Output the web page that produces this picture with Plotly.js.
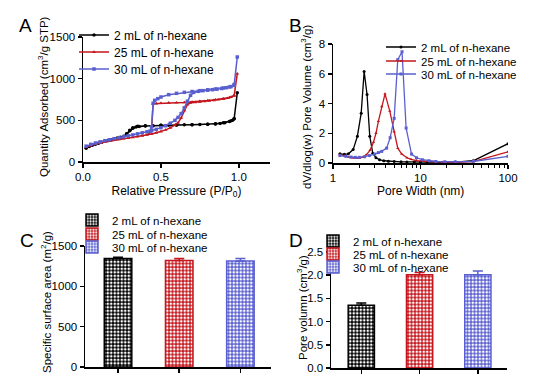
<!DOCTYPE html>
<html>
<head>
<meta charset="utf-8">
<script src="https://cdn.plot.ly/plotly-3.0.1.min.js"></script>
<style>html,body{margin:0;padding:0;background:#fff;}#chart{width:538px;height:386px;}</style>
</head>
<body>
<div id="chart"></div>
<script>
// ---------- DATA ----------
const seriesNames = ['2 mL of n-hexane', '25 mL of n-hexane', '30 mL of n-hexane'];

// Panel A: N2 isotherms (adsorption then desorption branch)
const isoP_2 = [0.02,0.04,0.06,0.08,0.10,0.12,0.14,0.16,0.18,0.20,0.22,0.24,0.26,0.28,0.30,0.32,0.34,0.36,0.40,0.45,0.50,0.55,0.60,0.65,0.70,0.75,0.80,0.85,0.88,0.91,0.94,0.96,0.97,0.99,
                0.97,0.95,0.90,0.85,0.80,0.70,0.60,0.50,0.40,0.35,0.32,0.30,0.28];
const isoQ_2 = [165,185,200,212,225,237,248,258,268,278,288,298,310,335,375,405,420,427,432,436,440,442,444,446,448,450,452,456,462,470,485,500,520,830,
                520,495,470,458,452,448,444,440,435,428,410,380,340];
const isoP_25 = [0.02,0.05,0.08,0.11,0.14,0.17,0.20,0.23,0.26,0.29,0.32,0.35,0.38,0.41,0.44,0.47,0.50,0.53,0.56,0.59,0.61,0.63,0.65,0.67,0.69,0.72,0.75,0.78,0.81,0.84,0.87,0.90,0.93,0.95,0.97,0.99,
                 0.97,0.94,0.90,0.85,0.80,0.75,0.70,0.65,0.60,0.55,0.50,0.47,0.45,0.44,0.42];
const isoQ_25 = [180,200,215,228,240,252,262,272,280,288,296,305,315,325,337,350,365,385,410,440,470,530,620,690,710,716,722,728,734,740,748,756,766,780,800,1060,
                 795,775,760,748,738,728,720,715,712,710,706,702,698,380,335];
const isoP_30 = [0.02,0.05,0.08,0.11,0.14,0.17,0.20,0.23,0.26,0.29,0.32,0.35,0.38,0.41,0.44,0.47,0.50,0.53,0.56,0.59,0.61,0.63,0.65,0.67,0.69,0.71,0.74,0.77,0.80,0.83,0.86,0.89,0.92,0.95,0.97,0.99,
                 0.97,0.94,0.90,0.85,0.80,0.75,0.70,0.65,0.60,0.55,0.50,0.48,0.46,0.45,0.44,0.43];
const isoQ_30 = [190,212,228,242,255,267,280,292,303,314,325,338,350,362,375,392,412,435,465,500,535,580,650,730,800,835,848,856,862,868,874,882,892,905,930,1260,
                 920,900,888,876,866,856,846,836,824,808,780,760,740,705,420,370];

// Panel B: pore size distribution
const psdW_2 = [1.2,1.35,1.5,1.7,1.9,2.1,2.27,2.45,2.63,2.85,3.1,3.4,3.8,4.3,5,6,7,8.5,10,12,15,19,25,40,100];
const psdV_2 = [0.62,0.58,0.62,0.9,1.8,3.35,6.15,4.6,1.8,0.65,0.35,0.22,0.15,0.12,0.1,0.08,0.07,0.06,0.06,0.05,0.05,0.05,0.06,0.15,1.3];
const psdW_25 = [1.2,1.35,1.5,1.65,1.8,2.0,2.2,2.4,2.65,2.9,3.1,3.3,3.6,3.93,4.45,5.0,5.5,6.1,7.0,7.8,9,11,14,18,25,40,100];
const psdV_25 = [0.55,0.48,0.4,0.35,0.32,0.33,0.4,0.55,0.85,1.4,2.0,2.8,3.8,4.65,3.5,2.1,1.0,0.6,0.35,0.25,0.16,0.12,0.08,0.06,0.05,0.1,0.75];
const psdW_30 = [1.2,1.4,1.6,1.8,2.0,2.3,2.6,3.0,3.3,3.6,4.1,4.5,5.0,5.5,6.15,6.85,7.9,9,10.5,12.5,15,19,25,40,100];
const psdV_30 = [0.5,0.45,0.4,0.38,0.38,0.42,0.5,0.6,0.7,0.78,1.0,1.7,3.0,6.95,7.48,2.35,0.6,0.35,0.22,0.15,0.1,0.08,0.07,0.1,0.45];

// Panel C: specific surface area (m2/g)
const ssaMean = [1345, 1320, 1315];
const ssaErr  = [15, 25, 30];
// Panel D: pore volume (cm3/g)
const pvMean = [1.35, 2.01, 2.01];
const pvErr  = [0.05, 0.05, 0.08];

// Axis titles
const titleA_x = 'Relative Pressure (P/P<sub>0</sub>)';
const titleA_y = 'Quantity Adsorbed (cm<sup>3</sup>/g STP)';
const titleB_x = 'Pore Width (nm)';
const titleB_y = 'dV/dlog(w) Pore Volume (cm<sup>3</sup>/g)';
const titleC_y = 'Specific surface area (m<sup>2</sup>/g)';
const titleD_y = 'Pore volumn (cm<sup>3</sup>/g)';

// ---------- STYLE ----------
const colors = ['#000000', '#c4161c', '#5a5fcf'];
const symbols = ['circle', 'triangle-up', 'square'];
const FONT = 'Arial, "Liberation Sans", sans-serif';
const W = 538, H = 386;
const px = v => v / W;
const py = v => 1 - v / H;

const isoP = [isoP_2, isoP_25, isoP_30];
const isoQ = [isoQ_2, isoQ_25, isoQ_30];
const psdW = [psdW_2, psdW_25, psdW_30];
const psdV = [psdV_2, psdV_25, psdV_30];

const traces = [];
// legend positions (pixel: x of legend box left, y of row center)
const legA = {x: 74, y: [35, 52, 69]};
const legB = {x: 381, y: [47, 61, 74]};
const legC = {x: 72, y: [220, 234, 247]};
const legD = {x: 313, y: [241, 254, 267]};
let legCount = 0;
const legends = {};
function addLegend(pos, i, size) {
  legCount++;
  const key = legCount === 1 ? 'legend' : 'legend' + legCount;
  legends[key] = {x: px(pos.x), y: py(pos.y[i]), xanchor: 'left', yanchor: 'middle',
    bgcolor: 'rgba(0,0,0,0)', borderwidth: 0, itemwidth: 30,
    font: {family: FONT, size: size, color: '#000'}};
  return key;
}

for (let i = 0; i < 3; i++) {
  traces.push({type: 'scatter', mode: 'lines+markers', x: isoP[i], y: isoQ[i], xaxis: 'x', yaxis: 'y',
    name: seriesNames[i], legend: addLegend(legA, i, 12), showlegend: true,
    line: {color: colors[i], width: 1.5}, marker: {color: colors[i], size: 3.5, symbol: symbols[i]}});
}
for (let i = 0; i < 3; i++) {
  traces.push({type: 'scatter', mode: 'lines+markers', x: psdW[i], y: psdV[i], xaxis: 'x2', yaxis: 'y2',
    name: seriesNames[i], legend: addLegend(legB, i, 11.5), showlegend: true,
    line: {color: colors[i], width: 1.3}, marker: {color: colors[i], size: 3, symbol: symbols[i]}});
}
function barTrace(i, vals, errs, xa, ya, leg) {
  return {type: 'bar', x: [i], y: [vals[i]], xaxis: xa, yaxis: ya, width: 0.45,
    name: seriesNames[i], legend: leg, showlegend: true,
    marker: {color: colors[i], line: {color: colors[i], width: 1.5},
      pattern: {shape: '.', fgcolor: '#ffffff', bgcolor: colors[i], size: 3.5, solidity: 0.45, fillmode: 'replace'}},
    error_y: {type: 'data', symmetric: false, array: [errs[i]], arrayminus: [0], color: colors[i], thickness: 1.5, width: 5}};
}
for (let i = 0; i < 3; i++) traces.push(barTrace(i, ssaMean, ssaErr, 'x3', 'y3', addLegend(legC, i, 11.5)));
for (let i = 0; i < 3; i++) traces.push(barTrace(i, pvMean, pvErr, 'x4', 'y4', addLegend(legD, i, 11.5)));

const axBase = {showgrid: false, zeroline: false, showline: true, linecolor: '#000', linewidth: 1.5,
  ticks: 'outside', ticklen: 4, tickwidth: 1.5, tickcolor: '#000',
  tickfont: {family: FONT, size: 11.5, color: '#000'}, automargin: false, fixedrange: true};
function ax(extra) { return Object.assign({}, axBase, extra); }
const tFont = {family: FONT, size: 12, color: '#000'};

function letter(t, x, y) {
  return {text: t, x: px(x), y: py(y), xref: 'paper', yref: 'paper', xanchor: 'left', yanchor: 'middle',
    showarrow: false, font: {family: FONT, size: 19, color: '#000'}};
}
function ytitle(t, x, y) {
  return {text: t, x: px(x), y: py(y), xref: 'paper', yref: 'paper', xanchor: 'center', yanchor: 'middle',
    textangle: -90, showarrow: false, font: {family: FONT, size: 11.5, color: '#000'}};
}
function xtitle(t, x, y) {
  return {text: t, x: px(x), y: py(y), xref: 'paper', yref: 'paper', xanchor: 'center', yanchor: 'middle',
    showarrow: false, font: {family: FONT, size: 12, color: '#000'}};
}

const layout = {
  width: W, height: H, margin: {l: 0, r: 0, t: 0, b: 0},
  paper_bgcolor: '#fff', plot_bgcolor: 'rgba(0,0,0,0)',
  font: {family: FONT, color: '#000'},
  barmode: 'overlay', showlegend: true,
  xaxis: ax({domain: [px(83), px(270)], anchor: 'y', range: [0, 1.2], tickvals: [0, 0.5, 1.0], ticktext: ['0.0', '0.5', '1.0'],
    title: {text: titleA_x, font: tFont, standoff: 4}}),
  yaxis: ax({domain: [py(162), py(37)], anchor: 'x', range: [0, 1500], tickvals: [0, 500, 1000, 1500]}),
  xaxis2: ax({domain: [px(333), px(508)], anchor: 'y2', type: 'log', range: [0, 2], tickvals: [1, 10, 100], ticktext: ['1', '10', '100'],
    minor: {tickvals: [2,3,4,5,6,7,8,9,20,30,40,50,60,70,80,90], ticklen: 3, tickwidth: 1, tickcolor: '#000', ticks: 'outside'}}),
  yaxis2: ax({domain: [py(163), py(44)], anchor: 'x2', range: [0, 8], tickvals: [0, 2, 4, 6, 8]}),
  xaxis3: ax({domain: [px(85), px(271)], anchor: 'y3', range: [-0.54, 2.5], tickvals: [0, 1, 2], ticktext: ['', '', '']}),
  yaxis3: ax({domain: [py(367), py(246)], anchor: 'x3', range: [0, 1500], tickvals: [0, 500, 1000, 1500]}),
  xaxis4: ax({domain: [px(331), px(507)], anchor: 'y4', range: [-0.52, 2.5], tickvals: [0, 1, 2], ticktext: ['', '', '']}),
  yaxis4: ax({domain: [py(368), py(252)], anchor: 'x4', range: [0, 2.5], tickvals: [0, 0.5, 1, 1.5, 2, 2.5], ticktext: ['0.0','0.5','1.0','1.5','2.0','2.5']}),
  annotations: [
    letter('A', 17, 25), letter('B', 287, 25), letter('C', 18, 240), letter('D', 287, 240),
    ytitle(titleA_y, 43, 97), ytitle(titleB_y, 306, 107), ytitle(titleC_y, 46, 302), ytitle(titleD_y, 302, 308),
    xtitle(titleB_x, 420, 191)
  ]
};
Object.assign(layout, legends);

Plotly.newPlot('chart', traces, layout, {staticPlot: true, displayModeBar: false});
</script>
</body>
</html>
